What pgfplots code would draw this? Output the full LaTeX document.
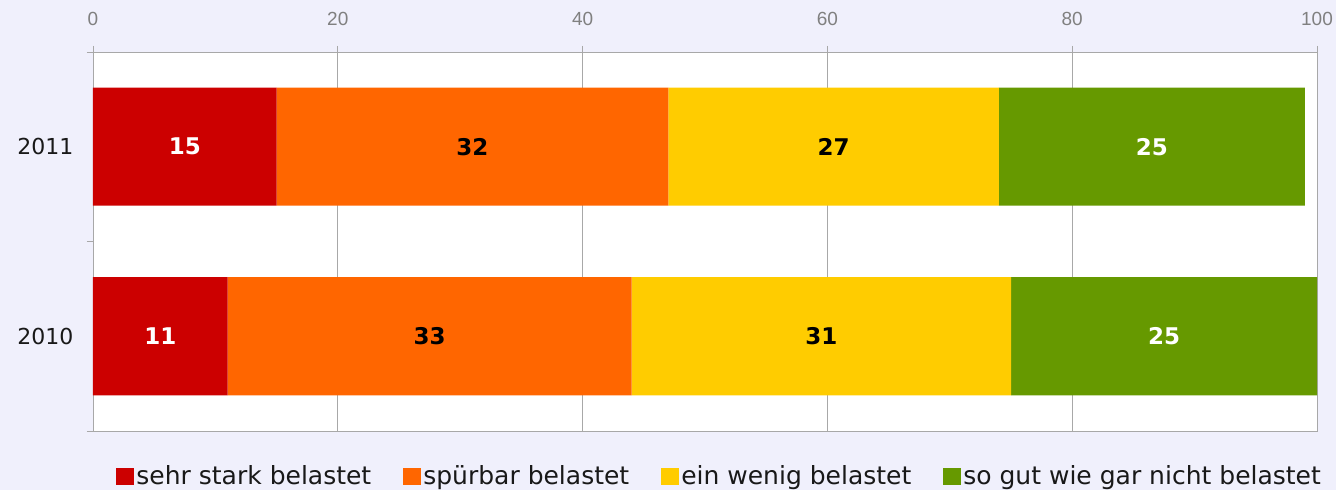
\documentclass[border=0pt]{standalone}
\usepackage{pgfplots}
\pgfplotsset{compat=1.18}
\usepackage{fontspec}
\setmainfont{DejaVu Sans}
\newfontfamily\arialf{Liberation Sans}
\definecolor{bg}{HTML}{F0F0FC}
\definecolor{cRed}{HTML}{CC0000}
\definecolor{cOrange}{HTML}{FF6600}
\definecolor{cYellow}{HTML}{FFCC00}
\definecolor{cGreen}{HTML}{669900}
\definecolor{axgray}{HTML}{A8A8A8}
\begin{document}
\begin{tikzpicture}
\fill[bg] (-93pt,-59pt) rectangle (1243pt,431pt);
\begin{axis}[
  at={(0,0)}, anchor=south west,
  scale only axis, width=1224pt, height=379pt,
  xbar stacked, bar width=118pt,
  xmin=0, xmax=100, ymin=0.5, ymax=2.5,
  axis background/.style={fill=white},
  axis line style={draw=axgray, line width=0.8pt},
  xtick={0,20,...,100}, xticklabel pos=upper, xtick pos=right,
  ytick pos=left,
  tick align=outside, major tick length=6pt,
  tick style={draw=axgray, line width=0.8pt},
  xmajorgrids, grid style={draw=axgray, line width=0.7pt},
  ytick={0.5,1.5,2.5}, yticklabels={},
  extra y ticks={1,2}, extra y tick labels={2010,2011},
  extra y tick style={major tick length=0pt, tick style={draw=none}},
  /pgf/number format/assume math mode=true,
  xticklabel style={font=\arialf\fontsize{19}{22}\selectfont, text=gray, yshift=17pt},
  yticklabel style={font=\fontsize{22}{26}\selectfont, text=black!90, xshift=-16pt},
  nodes near coords,
  nodes near coords style={font=\bfseries\fontsize{23}{27}\selectfont},
  legend columns=4,
  legend style={at={(0.512,-0.119)}, anchor=center, draw=none, fill=none,
    font=\fontsize{25}{29}\selectfont, text=black!90,
    nodes={inner xsep=2pt},
    /tikz/every even column/.append style={column sep=30pt}},
  legend image code/.code={\fill[#1,draw=none] (0pt,-8.5pt) rectangle (18pt,8.5pt);},
]
\addplot[fill=cRed, draw=none, every node near coord/.append style={text=white}] coordinates {(11,1) (15,2)};
\addplot[fill=cOrange, draw=none, every node near coord/.append style={text=black}] coordinates {(33,1) (32,2)};
\addplot[fill=cYellow, draw=none, every node near coord/.append style={text=black}] coordinates {(31,1) (27,2)};
\addplot[fill=cGreen, draw=none, every node near coord/.append style={text=white}] coordinates {(25,1) (25,2)};
\legend{sehr stark belastet, spürbar belastet, ein wenig belastet, so gut wie gar nicht belastet}
\end{axis}
\pgfresetboundingbox
\path (-93pt,-59pt) rectangle (1243pt,431pt);
\end{tikzpicture}
\end{document}
